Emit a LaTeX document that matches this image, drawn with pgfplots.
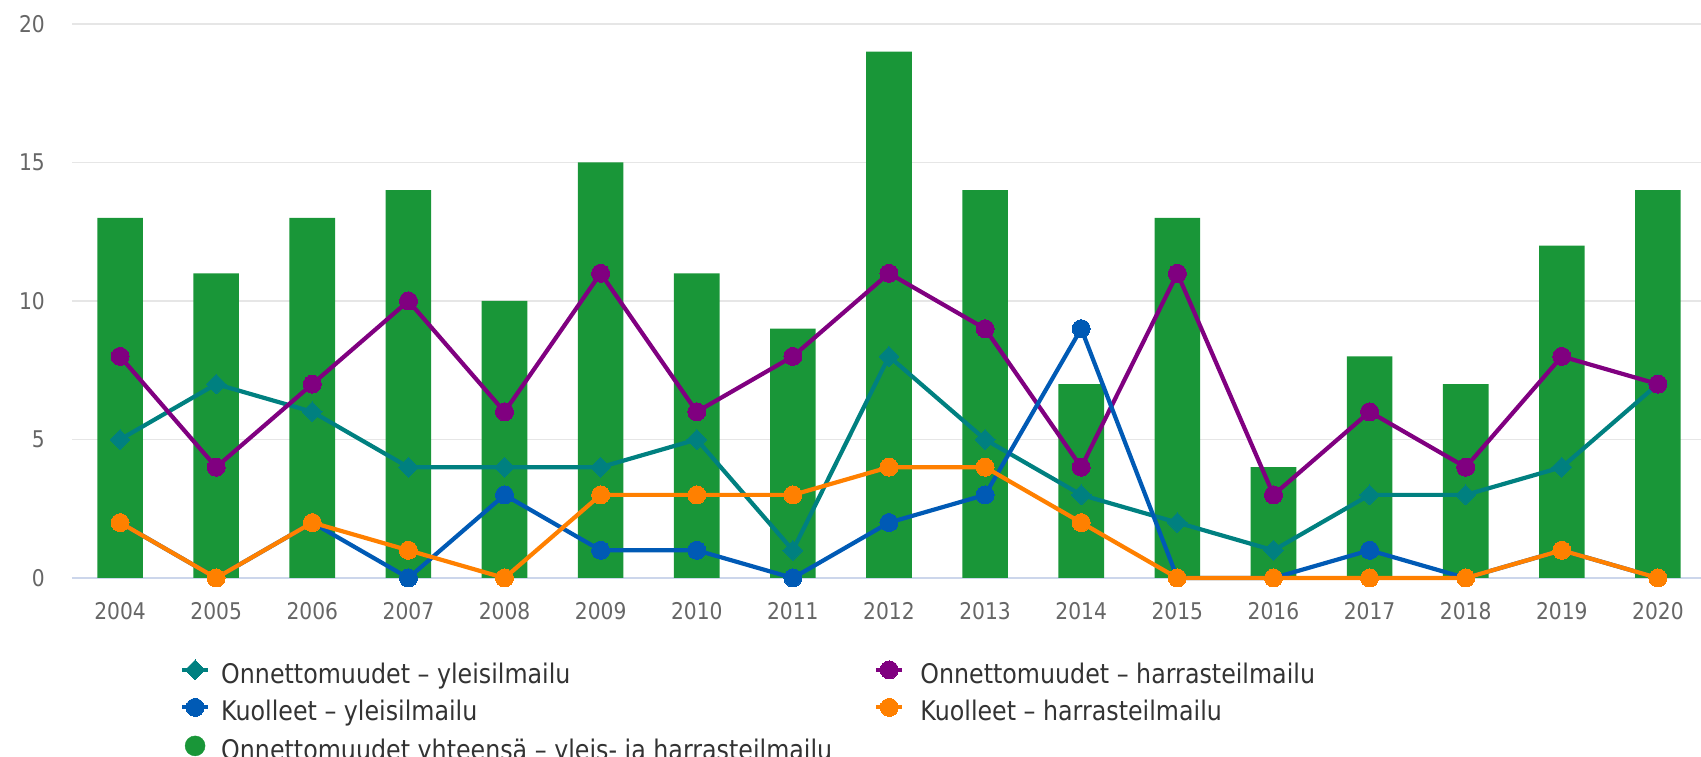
\documentclass[border=0pt]{standalone}
\usepackage{pgfplots}
\pgfplotsset{compat=1.18}
\usepackage{fontspec}
\setmainfont{DejaVu Sans}[FakeStretch=0.88]
\definecolor{cgreen}{HTML}{199638}
\definecolor{cteal}{HTML}{008080}
\definecolor{cpurple}{HTML}{800080}
\definecolor{cblue}{HTML}{005AB5}
\definecolor{corange}{HTML}{FF8000}
\definecolor{cgrid}{HTML}{E6E6E6}
\definecolor{caxis}{HTML}{CCD6EB}
\definecolor{ctick}{HTML}{666666}
\definecolor{clegend}{HTML}{333333}
\begin{document}
\begin{tikzpicture}
\useasboundingbox (0pt,0pt) rectangle (1701pt,757pt);
\begin{axis}[
  at={(72pt,179pt)}, anchor=south west,
  scale only axis, width=1634pt, height=554pt,
  xmin=-0.5, xmax=16.5, ymin=0, ymax=20,
  clip=false,
  xtick=data,
  xticklabels={2004,2005,2006,2007,2008,2009,2010,2011,2012,2013,2014,2015,2016,2017,2018,2019,2020},
  ytick={0,5,10,15,20},
  axis x line*=bottom, axis y line*=left,
  x axis line style={draw=caxis, line width=1.5pt},
  y axis line style={draw=none},
  major tick length=0pt,
  ymajorgrids, grid style={draw=cgrid, line width=1.5pt},
  /pgf/number format/assume math mode=true,
  tick label style={font=\fontsize{23}{27}\selectfont, text=ctick, inner sep=0pt},
  xticklabel style={anchor=center, yshift=-33pt},
  yticklabel style={anchor=east, xshift=-27pt},
  legend columns=2,
  legend cell align=left,
  legend style={draw=none, fill=none, inner sep=0pt, outer sep=0pt,
    at={(axis description cs:0,0)}, anchor=north west, xshift=108pt, yshift=-82pt,
    font=\fontsize{27}{31}\selectfont, text=clegend,
    column sep=11pt, row sep=9pt,
    nodes={inner sep=0pt, text height=19pt, text depth=6pt},
    /tikz/column 2/.style={column sep=42pt},
    /tikz/column 3/.style={column sep=16pt}},
  legend image code/.code={\draw[#1, mark repeat=2, mark phase=2] plot coordinates {(0pt,7pt) (13pt,7pt) (26pt,7pt)};},
]
\addplot[ybar, bar shift=0pt, bar width=45.6pt, fill=cgreen, draw=none, forget plot] coordinates {
(0,13) (1,11) (2,13) (3,14) (4,10) (5,15) (6,11) (7,9) (8,19) (9,14) (10,7) (11,13) (12,4) (13,8) (14,7) (15,12) (16,14)};
\addplot[cteal, line width=4.2pt, mark=square*, mark size=7pt, mark options={rotate=45, line width=0pt}] coordinates {
(0,5) (1,7) (2,6) (3,4) (4,4) (5,4) (6,5) (7,1) (8,8) (9,5) (10,3) (11,2) (12,1) (13,3) (14,3) (15,4) (16,7)};
\addlegendentry{Onnettomuudet – yleisilmailu}
\addplot[cpurple, line width=4.2pt, mark=*, mark size=9pt, mark options={line width=0pt}] coordinates {
(0,8) (1,4) (2,7) (3,10) (4,6) (5,11) (6,6) (7,8) (8,11) (9,9) (10,4) (11,11) (12,3) (13,6) (14,4) (15,8) (16,7)};
\addlegendentry{Onnettomuudet – harrasteilmailu}
\addplot[cblue, line width=4.2pt, mark=*, mark size=9pt, mark options={line width=0pt}] coordinates {
(0,2) (1,0) (2,2) (3,0) (4,3) (5,1) (6,1) (7,0) (8,2) (9,3) (10,9) (11,0) (12,0) (13,1) (14,0) (15,1) (16,0)};
\addlegendentry{Kuolleet – yleisilmailu}
\addplot[corange, line width=4.2pt, mark=*, mark size=9pt, mark options={line width=0pt}] coordinates {
(0,2) (1,0) (2,2) (3,1) (4,0) (5,3) (6,3) (7,3) (8,4) (9,4) (10,2) (11,0) (12,0) (13,0) (14,0) (15,1) (16,0)};
\addlegendentry{Kuolleet – harrasteilmailu}
\addlegendimage{cgreen, only marks, mark=*, mark size=10pt}
\addlegendentry{Onnettomuudet yhteensä – yleis- ja harrasteilmailu}
\end{axis}
\end{tikzpicture}
\end{document}
